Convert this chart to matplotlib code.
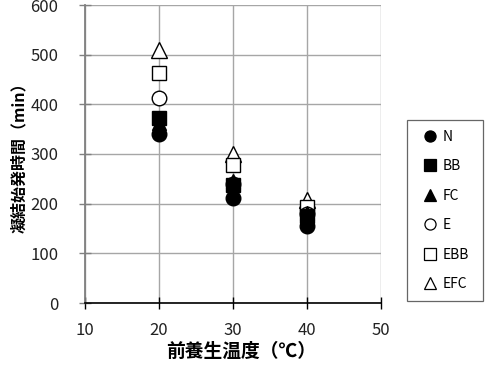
import matplotlib
matplotlib.use("Agg")
import matplotlib.pyplot as plt

plt.rcParams['font.family'] = ['Noto Sans CJK JP', 'DejaVu Sans']

temps = [20, 30, 40]
series_names = ["N", "BB", "FC", "E", "EBB", "EFC"]
N = [340, 212, 155]
BB = [372, 238, 175]
FC = [362, 245, 182]
E = [412, 240, 180]
EBB = [464, 278, 193]
EFC = [509, 300, 207]
values = [N, BB, FC, E, EBB, EFC]

styles = [
    dict(marker='o', mfc='black', mec='black'),
    dict(marker='s', mfc='black', mec='black'),
    dict(marker='^', mfc='black', mec='black'),
    dict(marker='o', mfc='white', mec='black'),
    dict(marker='s', mfc='white', mec='black'),
    dict(marker='^', mfc='white', mec='black'),
]
sizes = [10.5, 10, 10.5, 10.5, 10, 11]
draw_order = [5, 4, 3, 2, 1, 0]

fig = plt.figure(figsize=(4.88, 3.65), dpi=100)
ax = fig.add_axes([85/488, 1-303/365, (381-85)/488, (303-5)/365])

for i in draw_order:
    ax.plot(temps, values[i], linestyle='none', markersize=sizes[i],
            markeredgewidth=1.0, label=series_names[i], zorder=3+(6-i), **styles[i])

ax.set_xlim(10, 50)
ax.set_ylim(0, 600)
ax.set_xticks([10, 20, 30, 40, 50])
ax.set_yticks([0, 100, 200, 300, 400, 500, 600])
ax.grid(True, color='#a6a6a6', linewidth=1.0)
ax.set_axisbelow(True)
for s in ['top', 'right']:
    ax.spines[s].set_visible(False)
ax.spines['left'].set_color('#808080')
ax.spines['left'].set_linewidth(1.3)
ax.spines['bottom'].set_color('black')
ax.spines['bottom'].set_linewidth(1.2)
ax.tick_params(axis='both', direction='inout', length=8, width=1.0, labelsize=12,
               labelcolor='#222222')
ax.tick_params(axis='y', colors='#808080', labelcolor='#222222', pad=15)
ax.tick_params(axis='x', colors='black', labelcolor='#222222', pad=10)

ax.set_xlabel('前養生温度（℃）', fontsize=13.5, fontweight='bold')
ax.set_ylabel('凝結始発時間（min）', fontsize=11.5, fontweight='bold')
ax.xaxis.set_label_coords(0.527, (303-342)/298)
ax.yaxis.set_label_coords((27-85)/296, 0.5)

leg_handles = []
for i in range(6):
    h, = ax.plot([], [], linestyle='none', markersize=8, markeredgewidth=0.9, **styles[i])
    leg_handles.append(h)
leg = fig.legend(leg_handles, series_names, loc='lower left',
                 bbox_to_anchor=(407/488, 1-301/365, 76/488, 0.3), mode='expand',
                 frameon=True, fancybox=False,
                 edgecolor='#404040', fontsize=10, handlelength=1.9, handletextpad=0.0,
                 labelspacing=1.12, borderpad=0.7, borderaxespad=0)
leg.get_frame().set_linewidth(0.9)

fig.savefig('out.png', dpi=100)
